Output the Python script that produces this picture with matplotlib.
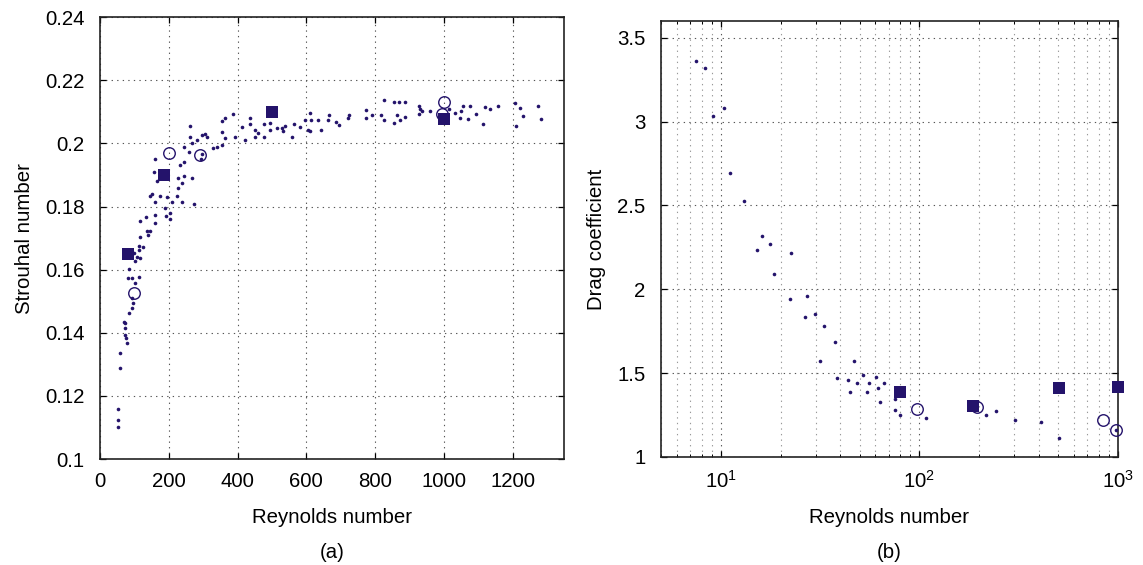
import numpy as np
import matplotlib.pyplot as plt
from matplotlib.ticker import LogLocator, NullFormatter

plt.rcParams['font.family'] = ['Liberation Sans', 'DejaVu Sans']
plt.rcParams['mathtext.fontset'] = 'custom'
plt.rcParams['mathtext.rm'] = 'Liberation Sans'
plt.rcParams['mathtext.it'] = 'Liberation Sans:italic'

# (a) Strouhal number vs Reynolds number
re_a_dots = [51, 51, 51, 58, 58, 78, 77, 74, 74, 73, 69, 83, 92, 97, 92, 102, 82, 92, 112, 83,
             103, 109, 117, 100, 112, 113, 126, 117, 141, 138, 146, 117, 160,
             134, 160, 146, 151, 160, 175, 194, 209, 189, 191, 204, 204, 223, 238, 272, 165, 157,
             160, 228, 243, 228, 238, 267, 233, 243, 243, 259, 262, 262, 267, 282, 296, 306, 311,
             296, 293, 330, 340, 354, 354, 364, 354, 364, 388, 393, 413, 422, 437, 437, 451, 451,
             461, 476, 476, 495, 495, 515, 529, 532, 539, 558, 563, 581,
             595, 610, 615, 605, 610, 633, 643, 662, 667, 686, 696, 720, 725, 774, 774, 792, 817,
             826, 826, 854, 869, 887, 864, 854, 874, 888, 927, 932, 937, 927, 961, 1014, 1032,
             1046, 1051, 1056, 1075, 1071, 1095, 1115, 1119, 1134, 1157, 1206, 1221, 1230, 1211,
             1274, 1282]
st_a_dots = [0.116, 0.1123, 0.1102, 0.1289, 0.1335, 0.1366, 0.1382, 0.1393, 0.1414, 0.143,
             0.1433, 0.1464, 0.1479, 0.1495, 0.1509, 0.1557, 0.1572, 0.1572, 0.1577, 0.1603,
             0.1626, 0.1639, 0.1637, 0.1654, 0.1661, 0.1676, 0.1672, 0.1703, 0.171, 0.1723,
             0.1723, 0.1754, 0.1747,
             0.1768, 0.1773, 0.1834, 0.1839, 0.1814, 0.1834, 0.1831, 0.1814, 0.1794, 0.177,
             0.1778, 0.1762, 0.1834, 0.1814, 0.1808, 0.1882, 0.191, 0.1952, 0.1891, 0.1896,
             0.186, 0.1875, 0.1891, 0.1933, 0.1942, 0.1989, 0.1973, 0.2021, 0.2056, 0.2, 0.201,
             0.2026, 0.2031, 0.2021, 0.1968, 0.1952, 0.1984, 0.1989, 0.1995, 0.2035, 0.2016,
             0.2071, 0.2082, 0.2092, 0.2021, 0.2051, 0.201, 0.2082, 0.206, 0.2021, 0.2044,
             0.2033, 0.206, 0.2021, 0.2065, 0.2044, 0.2049, 0.2049, 0.2039, 0.2055, 0.2021,
             0.206, 0.2053,
             0.2075, 0.2095, 0.2075, 0.2044, 0.2039, 0.2075, 0.2044, 0.2075, 0.209, 0.2069,
             0.2059, 0.208, 0.209, 0.2105, 0.208, 0.209, 0.209, 0.2136, 0.2075, 0.213, 0.213,
             0.213, 0.209, 0.2064, 0.2073, 0.2083, 0.212, 0.211, 0.2104, 0.2094, 0.2104, 0.211,
             0.2097, 0.2082, 0.2103, 0.2119, 0.2119, 0.2078, 0.2093, 0.2061, 0.2114, 0.2109,
             0.2118, 0.2129, 0.2113, 0.2087, 0.2056, 0.2118, 0.2077]
re_a_sq = [80, 185, 500, 1000]
st_a_sq = [0.165, 0.19, 0.21, 0.2077]
re_a_circ = [100, 200, 290, 1000, 996]
st_a_circ = [0.1525, 0.197, 0.1963, 0.2131, 0.2093]

# (b) Drag coefficient vs Reynolds number
re_b_dots = [7.5, 8.37, 9.11, 10.35, 11.07, 13.1, 16.2, 17.7, 15.2, 22.5, 18.5, 22.4, 27.3, 26.7,
             29.9, 33.1, 37.8, 31.6, 47, 38.4, 43.8, 44.8, 48.8, 52.1, 54.4, 55.5, 60.7, 61.8,
             66, 63.3, 75.3, 75.3, 79.5, 108, 217, 243, 302, 409, 507, 973]
cd_b_dots = [3.363, 3.317, 3.034, 3.082, 2.695, 2.526, 2.317, 2.272, 2.234, 2.214, 2.091, 1.94,
             1.96, 1.837, 1.855, 1.78, 1.685, 1.573, 1.573, 1.468, 1.46, 1.385, 1.44, 1.486,
             1.385, 1.44, 1.478, 1.413, 1.44, 1.327, 1.347, 1.28, 1.25, 1.23, 1.248, 1.276,
             1.22, 1.21, 1.115, 1.161]
re_b_sq = [80, 187, 507, 1000]
cd_b_sq = [1.389, 1.305, 1.409, 1.415]
re_b_circ = [97, 195, 837, 973]
cd_b_circ = [1.288, 1.296, 1.218, 1.161]

navy = '#24136b'
fs = 14.7
grid_major = dict(color='#555555', linestyle=(0, (1.2, 3.8)), linewidth=0.8)
grid_minor = dict(color='#999999', linestyle=(0, (1.2, 3.8)), linewidth=0.8)

fig = plt.figure(figsize=(11.43, 5.65), dpi=100)
ax1 = fig.add_axes([0.0875, 0.1876, 0.406, 0.782])
ax2 = fig.add_axes([0.5783, 0.1912, 0.3998, 0.7717])


def draw(ax, xd, yd, xs, ys, xc, yc):
    ax.plot(xd, yd, 'o', ms=2.6, mew=0, color=navy, clip_on=False, zorder=3)
    ax.plot(xs, ys, 's', ms=8, mew=0, color=navy, clip_on=False, zorder=4)
    ax.plot(xc, yc, 'o', ms=8.3, mfc='none', mec=navy, mew=1.0, clip_on=False, zorder=5)


draw(ax1, re_a_dots, st_a_dots, re_a_sq, st_a_sq, re_a_circ, st_a_circ)
ax1.set_xlim(0, 1350)
ax1.set_ylim(0.1, 0.24)
ax1.set_xticks(np.arange(0, 1201, 200))
yt = np.arange(0.1, 0.2401, 0.02)
ax1.set_yticks(yt)
ax1.set_yticklabels(['0.1', '0.12', '0.14', '0.16', '0.18', '0.2', '0.22', '0.24'])
ax1.grid(True, **grid_major)
ax1.set_ylabel('Strouhal number', fontsize=fs, labelpad=8)

draw(ax2, re_b_dots, cd_b_dots, re_b_sq, cd_b_sq, re_b_circ, cd_b_circ)
ax2.set_xscale('log')
ax2.set_xlim(5, 1000)
ax2.set_ylim(1, 3.6)
ax2.set_xticks([10, 100, 1000])
ax2.set_xticklabels([r'$\mathregular{10^{1}}$', r'$\mathregular{10^{2}}$', r'$\mathregular{10^{3}}$'])
ax2.xaxis.set_minor_locator(LogLocator(base=10, subs=np.arange(2, 10)))
ax2.xaxis.set_minor_formatter(NullFormatter())
ax2.set_yticks([1, 1.5, 2, 2.5, 3, 3.5])
ax2.set_yticklabels(['1', '1.5', '2', '2.5', '3', '3.5'])
ax2.grid(True, which='major', **grid_major)
ax2.grid(True, which='minor', axis='x', **grid_minor)
ax2.set_ylabel('Drag coefficient', fontsize=fs, labelpad=8)

for ax, tag in [(ax1, '(a)'), (ax2, '(b)')]:
    ax.set_axisbelow(True)
    for s in ax.spines.values():
        s.set_linewidth(1.2)
        s.set_color('#222222')
    ax.tick_params(which='major', direction='in', length=4.5, width=0.9, top=True, right=True,
                   labelsize=fs)
    ax.tick_params(axis='x', which='major', pad=9)
    ax.tick_params(axis='y', which='major', pad=11)
    ax.tick_params(which='minor', direction='in', length=2.5, width=0.7, top=True, right=True)
    pos = ax.get_position()
    xc = (pos.x0 + pos.x1) / 2
    fig.text(xc, 0.0832, 'Reynolds number', ha='center', va='center', fontsize=fs)
    fig.text(xc, 0.023, tag, ha='center', va='center', fontsize=fs)

fig.savefig('out.png', dpi=100)
